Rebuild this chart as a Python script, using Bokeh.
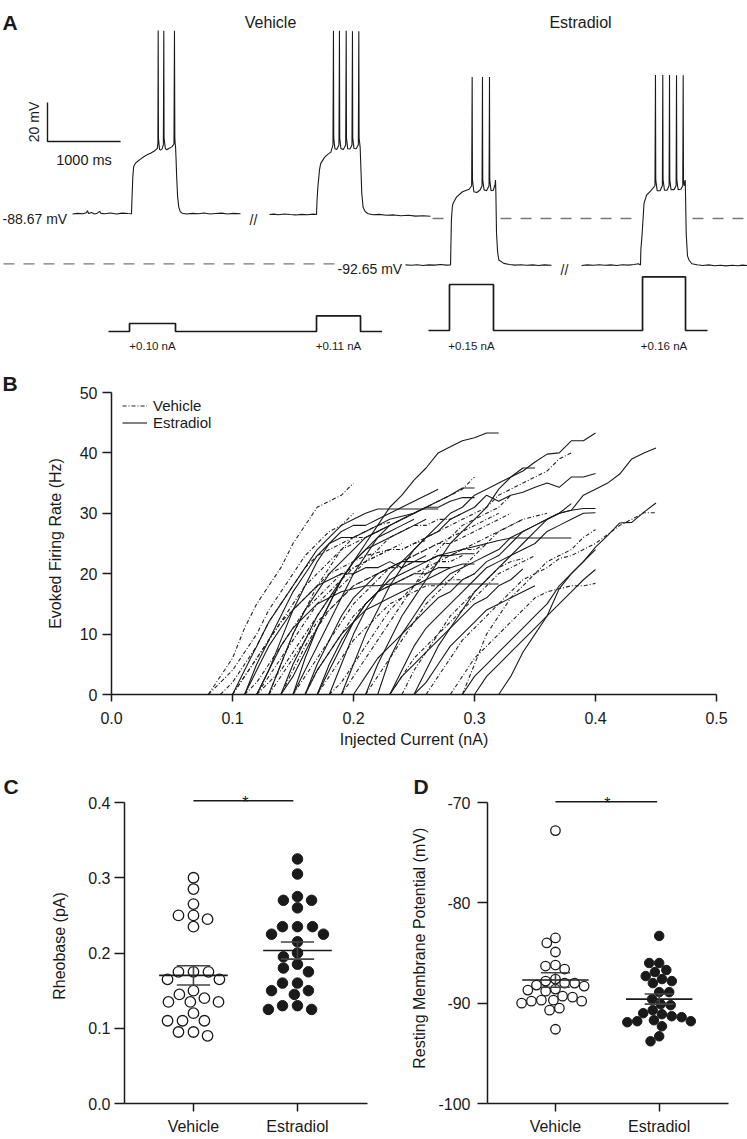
import math
import numpy as np
from bokeh.plotting import figure
from bokeh.layouts import column, row
from bokeh.models import Range1d, FixedTicker, Label, Legend, LegendItem, NumeralTickFormatter, Title
from bokeh.embed import file_html
from bokeh.resources import INLINE

FONT = "Liberation Sans"
INK = "#1a1a1a"

# ======================= DATA =======================
# ---- Panel A: example voltage traces (local time in ms, membrane potential in mV)
vt1_t = [0, 70, 140, 190, 205, 220, 260, 300, 340, 370, 390, 440, 520, 600, 680, 760, 807,
         815, 825, 836, 860, 884, 930, 975, 1020, 1067, 1120, 1160, 1168,
         1172, 1176, 1190, 1204, 1225, 1243,
         1249, 1253, 1270, 1290, 1317, 1360, 1388,
         1395, 1400, 1405, 1410,
         1418, 1425, 1438, 1454, 1475, 1500, 1560, 1640, 1720, 1800, 1880, 1960, 2040, 2120, 2200, 2298]
vt1_mv = [-88.9, -88.6, -88.8, -88.3, -87.3, -88.7, -88.1, -88.9, -88.5, -87.6, -88.6, -88.8, -88.4, -88.9, -88.5, -88.7, -88.8,
          -80.0, -70.0, -64.7, -63.0, -62.1, -60.8, -59.6, -58.6, -57.8, -56.6, -55.3, -53.0,
          5.2, -50.0, -55.8, -56.2, -55.5, -53.5,
          5.0, -50.0, -55.4, -56.0, -55.3, -54.5, -53.0,
          5.1, -50.0, -53.0, -54.6,
          -62.0, -70.0, -80.0, -85.4, -87.8, -88.5, -88.9, -88.6, -88.8, -88.4, -88.9, -88.7, -88.5, -88.9, -88.6, -88.8]

vt2_t = [0, 60, 120, 200, 280, 360, 440, 520, 600, 643,
         650, 662, 685, 700, 750, 800, 840, 868,
         875, 879, 895, 920, 950,
         957, 961, 978, 1010, 1042,
         1049, 1053, 1070, 1100, 1128,
         1135, 1139, 1155, 1185, 1215,
         1222, 1226, 1240,
         1250, 1262, 1280, 1310, 1350, 1420, 1500, 1600, 1700, 1800, 1900, 2000, 2100, 2202]
vt2_mv = [-89.2, -89.0, -89.3, -88.9, -89.2, -89.4, -89.1, -89.3, -89.0, -89.2,
          -82.0, -75.0, -66.0, -63.1, -60.0, -58.2, -57.2, -53.5,
          5.0, -50.0, -55.5, -55.8, -53.5,
          5.0, -50.0, -55.5, -55.8, -53.5,
          5.0, -50.0, -55.5, -55.6, -53.5,
          4.8, -50.0, -55.3, -55.5, -53.5,
          4.8, -50.0, -54.6,
          -65.0, -78.0, -85.5, -87.8, -88.8, -89.3, -89.1, -89.6, -89.4, -89.8, -89.6, -90.0, -89.8, -90.1]

et1_t = [0, 80, 160, 240, 320, 400, 480, 560, 616,
         620, 628, 640, 650, 700, 780, 870, 905,
         912, 916, 935, 975, 1020, 1047,
         1053, 1057, 1075, 1110, 1143,
         1149, 1153, 1170, 1200, 1225, 1231,
         1236, 1245, 1260, 1277, 1345, 1420, 1500, 1580, 1660, 1740, 1820, 1900, 1997]
et1_mv = [-92.6, -92.8, -92.5, -92.9, -92.6, -92.7, -92.4, -92.7, -92.6,
          -85.0, -69.6, -63.0, -61.1, -57.7, -55.1, -53.8, -52.0,
          3.8, -49.0, -55.1, -55.5, -54.2, -52.0,
          3.8, -49.0, -54.2, -54.5, -52.0,
          3.8, -49.0, -54.5, -54.3, -51.5, -49.1,
          -55.0, -76.4, -86.0, -90.1, -91.8, -92.4, -92.7, -92.5, -92.8, -92.6, -92.9, -92.6, -92.8]

et2_t = [0, 80, 160, 240, 320, 400, 480, 560, 640, 720, 780, 807,
         812, 830, 855, 890, 950, 1005,
         1012, 1016, 1035, 1075, 1106,
         1112, 1116, 1135, 1170, 1198,
         1204, 1208, 1225, 1265, 1294,
         1300, 1304, 1322, 1360, 1385,
         1391, 1395, 1405, 1419,
         1425, 1432, 1450, 1470, 1510, 1580, 1660, 1740, 1820, 1900, 1980, 2060, 2140, 2200, 2271]
et2_mv = [-92.9, -92.6, -92.8, -92.5, -92.8, -92.6, -92.9, -92.5, -92.7, -92.4, -92.0, -92.7,
          -85.0, -76.4, -61.1, -56.8, -54.5, -52.0,
          4.8, -49.0, -54.5, -54.6, -52.0,
          4.8, -49.0, -54.3, -54.3, -52.0,
          4.8, -49.0, -54.0, -54.0, -52.0,
          4.6, -49.0, -54.0, -53.8, -52.0,
          4.6, -49.0, -52.0, -49.1,
          -60.0, -76.4, -88.0, -90.1, -92.0, -92.5, -92.9, -92.6, -93.0, -92.8, -93.1, -92.8, -93.0, -92.7, -92.9]

vehicle_rest_mv = -88.67
estradiol_rest_mv = -92.65

# injected current protocols (absolute time in ms, current in nA)
veh_I_t = [1478, 1765, 1765, 2394, 2394, 4323, 4323, 4925, 4925, 5220]
veh_I_nA = [0, 0, 0.10, 0.10, 0, 0, 0.11, 0.11, 0, 0]
est_I_t = [5855, 6142, 6142, 6744, 6744, 8783, 8783, 9371, 9371, 9672]
est_I_nA = [0, 0, 0.15, 0.15, 0, 0, 0.16, 0.16, 0, 0]

scale_mv = 20
scale_ms = 1000

# ---- Panel B: F-I curves (start current in nA, then firing rate every 0.01 nA)
fi_step = 0.01
veh_fi_start = [0.08, 0.08, 0.09, 0.10, 0.11, 0.12, 0.12, 0.13, 0.14, 0.15, 0.16,
                0.17, 0.18, 0.26, 0.29, 0.28, 0.21, 0.23, 0.24, 0.19, 0.10, 0.13]
veh_fi_rate = [
    [0, 3, 6, 11, 15, 18, 21, 25, 28, 31, 32, 33, 35],
    [0, 2, 4, 7, 10, 14, 17, 20, 23, 25, 27, 28, 30],
    [0, 2, 5, 8, 12, 15, 18, 21, 23, 24, 25, 26, 26, 27, 28],
    [0, 3, 6, 9, 12, 15, 18, 20, 22, 24, 25, 26, 27, 28, 29, 30, 31, 32, 33, 34, 36],
    [0, 2, 5, 8, 11, 14, 16, 18, 20, 21, 22, 23, 24, 24, 25, 26, 27, 28, 29, 30, 31, 33, 34, 35, 36, 37, 39, 40],
    [0, 3, 6, 9, 12, 15, 17, 19, 21, 22, 23, 24, 24, 25, 25.5],
    [0, 2, 4, 7, 10, 13, 16, 18, 20, 22, 24, 26, 27, 28, 28, 29, 29, 30],
    [0, 3, 6, 9, 12, 14, 16, 18, 19, 20, 21, 21, 22, 22, 23, 23, 24, 24, 25],
    [0, 4, 8, 11, 14, 16, 18, 19, 20, 21, 22, 23, 24, 25, 25, 26, 27, 28, 29, 30],
    [0, 3, 6, 9, 12, 15, 17, 19, 21, 22, 23, 24, 25, 26, 27, 28, 29, 30],
    [0, 4, 7, 10, 13, 15, 17, 18, 19, 20, 21, 22, 22, 23],
    [0, 3, 6, 9, 11, 13, 15, 16, 17, 18, 18, 19, 19, 20],
    [0, 2, 5, 8, 11, 14, 16, 18, 20, 22, 23, 24, 25, 26, 27, 28, 29],
    [0, 3, 6, 9, 11, 13, 15, 17, 19, 20, 21, 22.5, 23, 24, 25, 26.5, 28, 29, 30.1, 30.1],
    [0, 5, 10, 13, 16, 18, 20, 22, 23, 24, 26, 27.3],
    [0, 3, 6, 8, 10, 12, 14, 16, 17, 17.5, 18, 18, 18.4],
    [0, 3, 6, 9, 12, 15, 17, 19, 21, 23, 25, 27, 28, 29, 29.5, 30],
    [0, 3, 6, 8, 10, 12, 14, 16, 18, 20, 21, 22, 23],
    [0, 4, 7, 10, 13, 15, 17, 19, 21, 22, 22.5],
    [0, 3, 6, 9, 12, 15, 18, 21, 24, 26, 28, 29, 30, 31, 33],
    [0, 3, 6, 9, 12, 14, 16, 18, 20, 21, 22, 23, 23.5, 24, 25],
    [0, 5, 10, 14, 18, 21, 24, 26, 27, 28, 28.5],
]
est_fi_start = [0.14, 0.21, 0.18, 0.25, 0.32, 0.20, 0.23, 0.22, 0.17, 0.19, 0.23, 0.12, 0.15,
                0.13, 0.16, 0.11, 0.30, 0.29, 0.10, 0.11, 0.12, 0.14, 0.15, 0.16, 0.17, 0.25]
est_fi_rate = [
    [0, 5, 9, 13, 16, 19, 22, 25, 28, 31, 33, 35.5, 37.5, 40, 41, 42, 42.5, 43.3, 43.3],
    [0, 5, 9, 13, 16, 19, 22, 25, 27, 29, 31, 34, 36, 37, 38.5, 39.8, 40, 42, 42, 43.3],
    [0, 5, 10, 14, 17, 20, 22, 24, 26, 27, 29, 30, 31, 33, 32, 33, 33.5, 34.3, 35, 34.3, 36, 36, 36.6],
    [0, 4, 8, 11, 14, 17, 19, 21, 23, 25, 27, 29, 30, 30.5, 33, 34, 35, 36.5, 39, 40, 40.8],
    [0, 3, 7, 10, 13, 17.5, 20, 22, 24.4, 26.3, 28.4, 28.5, 30.2, 31.7],
    [0, 3, 6, 8, 10, 12, 14, 16, 17, 19, 20, 22, 23, 25, 27, 28, 29, 30, 30.5, 30.8, 30.8],
    [0, 4, 8, 11, 13, 15, 17, 19, 21, 22, 23, 24, 25, 27, 28, 29, 30, 30.1],
    [0, 6, 10, 13, 16, 18, 20, 21, 22, 23, 24, 26, 27, 28, 29, 30, 31.6],
    [0, 5, 9, 12, 15, 17, 19, 20, 21, 22, 23, 23.5, 24, 24.5, 25, 25.5, 25.9, 25.9, 25.9, 25.9, 25.9, 25.9],
    [0, 5, 10, 14, 18, 21, 24, 26, 28, 30, 31, 33, 34, 35, 36, 37.5, 37.5],
    [0, 3, 5, 7, 9, 11, 13, 15, 16, 18, 19, 20.8],
    [0, 4, 8, 11, 13, 15, 16, 17, 17.5, 18, 18, 18.3, 18.3, 18.3, 18.3, 18.3, 18.3, 18.3, 18.3, 18.3, 18.3],
    [0, 6, 11, 15, 19, 22, 24, 26, 28, 29, 30, 31, 32, 33, 34.2, 34.2],
    [0, 5, 10, 14, 17, 20, 22, 24, 26, 27, 28, 29, 30, 31, 31, 32, 32.6, 32.6],
    [0, 4, 7, 10, 12, 14, 15, 16, 17, 18, 19, 20, 21, 21.6, 21.6],
    [0, 4, 8, 11, 14, 16, 18, 19, 20, 20, 21, 21, 22, 21, 22, 22, 23, 23, 23.3, 23.3],
    [0, 3, 5, 7, 9, 11, 13, 15, 17, 19, 20.7],
    [0, 3, 5, 7, 9, 11, 13, 15, 18, 20, 22, 24],
    [0, 4, 8, 12, 15, 18, 21, 24, 26, 28, 29, 30, 30.7, 30.7, 30.7, 30.7, 30.7, 30.7],
    [0, 5, 9, 13, 17, 20, 23, 25, 26, 26, 27, 28, 29, 29.5, 30, 31],
    [0, 4, 9, 14, 18, 22, 25, 27, 28, 28, 29, 30, 31, 32, 33, 34],
    [0, 3, 7, 11, 15, 19, 22, 24, 25, 26, 27, 28, 29],
    [0, 4, 8, 12, 16, 20, 23, 26, 27, 28, 29],
    [0, 5, 9, 13, 16, 18, 20, 21, 22, 22, 23],
    [0, 4, 8, 12, 15, 17, 18, 19, 20, 20, 21, 21],
    [0, 2, 5, 8, 10, 12, 14, 15, 16, 17, 18],
]

# ---- Panel C: rheobase
groups = ["Vehicle", "Estradiol"]
rheobase_vehicle = [0.300, 0.285, 0.265, 0.250, 0.250, 0.245, 0.235, 0.175, 0.175, 0.175, 0.165, 0.165,
                    0.150, 0.145, 0.140, 0.135, 0.135, 0.135, 0.120, 0.110, 0.110, 0.110, 0.095, 0.095, 0.090]
rheobase_estradiol = [0.325, 0.305, 0.275, 0.270, 0.270, 0.260, 0.235, 0.235, 0.235, 0.225, 0.225, 0.215, 0.200,
                      0.195, 0.185, 0.180, 0.175, 0.160, 0.160, 0.150, 0.150, 0.145, 0.130, 0.130, 0.125, 0.125]

# ---- Panel D: resting membrane potential
rmp_vehicle = [-72.8, -83.5, -84.0, -84.9, -86.2, -86.3, -86.6, -87.6, -87.8, -88.0, -88.0, -88.2, -88.3,
               -88.6, -88.7, -88.8, -89.3, -89.4, -89.7, -89.7, -89.8, -89.8, -90.0, -90.5, -90.7, -92.6]
rmp_estradiol = [-83.3, -86.0, -86.0, -86.7, -86.9, -87.3, -87.6, -87.8, -88.0, -88.9, -88.9, -89.6, -90.1,
                 -90.2, -90.7, -91.0, -91.1, -91.3, -91.4, -91.7, -91.8, -91.8, -91.9, -92.3, -93.3, -93.8]

# ======================= HELPERS =======================
def style_axes(p, tick_out_x, standoff_x, label_standoff_x, tick_out_y, standoff_y, label_standoff_y):
    for a in p.axis:
        a.axis_line_width = 1.5
        a.axis_line_color = INK
        a.major_tick_line_width = 1.5
        a.major_tick_line_color = INK
        a.major_tick_in = 0
        a.minor_tick_in = 0
        a.minor_tick_out = 0
        a.major_label_text_font = FONT
        a.major_label_text_font_size = "16px"
        a.major_label_text_color = INK
        a.axis_label_text_font = FONT
        a.axis_label_text_font_size = "16px"
        a.axis_label_text_font_style = "normal"
        a.axis_label_text_color = INK
    p.xaxis.major_tick_out = tick_out_x
    p.xaxis.major_label_standoff = standoff_x
    p.xaxis.axis_label_standoff = label_standoff_x
    p.yaxis.major_tick_out = tick_out_y
    p.yaxis.major_label_standoff = standoff_y
    p.yaxis.axis_label_standoff = label_standoff_y
    p.outline_line_color = None
    p.grid.grid_line_color = None
    p.frame_align = False


def panel_letter(p, text, offset, standoff):
    p.add_layout(Title(text=text, align="left", offset=offset, standoff=standoff,
                       text_font=FONT, text_font_size="21px", text_font_style="bold",
                       text_color=INK), "above")


def swarm(vals, ypx, dx_min, dy_min):
    """Greedy beeswarm: points closer than dx_min horizontally and dy_min vertically are pushed aside."""
    k = dx_min / dy_min
    idx = sorted(range(len(vals)), key=lambda i: -vals[i])
    placed = []
    out = [0.0] * len(vals)
    d = dx_min
    for i in idx:
        y = vals[i] * ypx * k
        cands = [0.0]
        for xj, yj in placed:
            dy = abs(y - yj)
            if dy < d:
                dx = math.sqrt(d * d - dy * dy)
                cands += [xj - dx, xj + dx]
        cands.sort(key=lambda c: (abs(c), c))
        chosen = cands[-1]
        for c in cands:
            if all((c - xj) ** 2 + (y - yj) ** 2 >= d * d - 1e-6 for xj, yj in placed):
                chosen = c
                break
        placed.append((chosen, y))
        out[i] = chosen
    return out


def lbl(p, x, y, text, size, align="left", bold=False, angle=0.0, color=INK, baseline="alphabetic"):
    p.add_layout(Label(x=x, y=y, text=text, text_font=FONT, text_font_size=size,
                       text_align=align, text_baseline=baseline, angle=angle,
                       text_font_style="bold" if bold else "normal", text_color=color))

# ======================= PANEL A =======================
A_W, A_H = 747, 350
PX_PER_MS = 0.0731
PX_PER_MV = 1.95
A_TOP = vehicle_rest_mv + 213 / PX_PER_MV
pA = figure(width=A_W, height=A_H, x_range=Range1d(0, A_W / PX_PER_MS),
            y_range=Range1d(A_TOP - A_H / PX_PER_MV, A_TOP),
            output_backend="svg", toolbar_location=None, title=None,
            x_axis_location=None, y_axis_location=None, min_border=0)
pA.outline_line_color = None
pA.grid.grid_line_color = None
pA.frame_align = False

def ax(px):  # page x -> ms
    return px / PX_PER_MS

def ay(py):  # page y -> display mV
    return A_TOP - py / PX_PER_MV

EST_OFF = ay(264.5) - estradiol_rest_mv
traces = [(vt1_t, vt1_mv, ax(72), 0.0), (vt2_t, vt2_mv, ax(269), 0.0),
          (et1_t, et1_mv, ax(405), EST_OFF), (et2_t, et2_mv, ax(581), EST_OFF)]
for t, mv, x0, off in traces:
    pA.line([x0 + v for v in t], [m + off for m in mv], line_color=INK, line_width=1.1)

# reference dashed lines
pA.line([ax(3), ax(336)], [estradiol_rest_mv + EST_OFF + 0.6] * 2, line_color="#777777", line_width=1.3, line_dash="11 9")
for a_, b_ in [(432, 447), (500, 636), (692, 747)]:
    pA.line([ax(a_), ax(b_)], [ay(218)] * 2, line_color="#777777", line_width=1.3, line_dash="11 9")

# current protocols
I_GAIN = 760.0   # px per nA above holding
I_HOLD = 0.0895
def i_disp(vals, base_py):
    return [ay(base_py) + (max(v - I_HOLD, 0) * I_GAIN if v > 0 else 0) / PX_PER_MV for v in vals]
pA.line(veh_I_t, i_disp(veh_I_nA, 331), line_color=INK, line_width=1.7)
pA.line(est_I_t, i_disp(est_I_nA, 330), line_color=INK, line_width=1.7)
for tt, ii in [(veh_I_t, veh_I_nA), (est_I_t, est_I_nA)]:
    for k in range(len(ii) - 1):
        if ii[k] > 0 and ii[k + 1] > 0:
            lbl(pA, (tt[k] + tt[k + 1]) / 2, ay(345), f"+{ii[k]:.2f} nA", "11.5px", align="center")

# scale bar
sb_x, sb_y = ax(47), ay(141)
pA.line([sb_x, sb_x, sb_x + scale_ms], [sb_y + scale_mv, sb_y, sb_y], line_color=INK, line_width=1.4)
lbl(pA, ax(41), sb_y + scale_mv / 2, f"{scale_mv} mV", "14px", align="center", angle=math.pi / 2,
    baseline="bottom")
lbl(pA, sb_x + scale_ms / 2, ay(159.3), f"{scale_ms} ms", "14.5px", align="center")

lbl(pA, ax(2), ay(21.7), "A", "21px", bold=True)
lbl(pA, ax(270), ay(21.5), "Vehicle", "16px", align="center")
lbl(pA, ax(580), ay(21.5), "Estradiol", "16px", align="center")
lbl(pA, ax(66.7), ay(218), f"{vehicle_rest_mv:.2f} mV", "14px", align="right")
lbl(pA, ax(401.7), ay(268.5), f"{estradiol_rest_mv:.2f} mV", "14px", align="right")
lbl(pA, ax(253), ay(219), "//", "14px", align="center")
lbl(pA, ax(564), ay(269), "//", "14px", align="center")

# ======================= PANEL B =======================
pB = figure(width=747, height=402, x_range=Range1d(0, 0.5), y_range=Range1d(0, 50),
            output_backend="svg", toolbar_location=None, title=None,
            min_border_left=111, min_border_right=31, min_border_top=42, min_border_bottom=58)
style_axes(pB, 7, 10, 4, 9, 5, 13)
pB.xaxis.ticker = FixedTicker(ticks=[0, 0.1, 0.2, 0.3, 0.4, 0.5])
pB.xaxis.formatter = NumeralTickFormatter(format="0.0")
pB.yaxis.ticker = FixedTicker(ticks=[0, 10, 20, 30, 40, 50])
pB.xaxis.axis_label = "Injected Current (nA)"
pB.yaxis.axis_label = "Evoked Firing Rate (Hz)"

def fi_xy(starts, rates):
    xs = [[s + fi_step * k for k in range(len(r))] for s, r in zip(starts, rates)]
    return xs, [list(r) for r in rates]

vx, vy = fi_xy(veh_fi_start, veh_fi_rate)
ex, ey = fi_xy(est_fi_start, est_fi_rate)
r_veh = pB.multi_line(xs=vx, ys=vy, line_color="#222222", line_width=1.1, line_dash="4 2 1 2")
r_est = pB.multi_line(xs=ex, ys=ey, line_color=INK, line_width=1.1)
leg = Legend(items=[LegendItem(label="Vehicle", renderers=[r_veh]),
                    LegendItem(label="Estradiol", renderers=[r_est])],
             location=(11, 263), border_line_color=None, background_fill_alpha=0,
             label_text_font=FONT, label_text_font_size="15px", label_text_color=INK,
             glyph_width=25, glyph_height=17, label_height=17, spacing=0, padding=0, margin=0,
             label_standoff=6)
pB.add_layout(leg)
panel_letter(pB, "B", -109, -4)

# ======================= PANELS C & D =======================
EXTRA_TOP = 14   # px of frame above the top tick, room for the significance marks
C_XR = (0.337, 2.673)
C_YPX = 301 / 0.4
C_TOP = 0.4 + EXTRA_TOP / C_YPX
pC = figure(width=373, height=387, x_range=Range1d(*C_XR), y_range=Range1d(0, C_TOP),
            output_backend="svg", toolbar_location=None, title=None,
            min_border_left=124, min_border_right=6, min_border_top=36, min_border_bottom=36)
style_axes(pC, 8, 6, 0, 10, 4, 17)
pC.xaxis.ticker = FixedTicker(ticks=[1, 2])
pC.xaxis.major_label_overrides = {1: groups[0], 2: groups[1]}
pC.yaxis.ticker = FixedTicker(ticks=[0, 0.1, 0.2, 0.3, 0.4])
pC.yaxis.formatter = NumeralTickFormatter(format="0.0")
pC.yaxis.bounds = (0, 0.4)
pC.yaxis.axis_label = "Rheobase (pA)"
C_XPX = 243 / (C_XR[1] - C_XR[0])

D_XR = (0.345, 2.668)
D_YPX = 301 / 30.0
D_TOP = -70 + EXTRA_TOP / D_YPX
D_XPX = 241 / (D_XR[1] - D_XR[0])

def dot_panel(p, vals_list, ypx, xpx, dx_min, dy_min, size, mean_half, cap_half, bar_y, bar_x1):
    for gi, vals in enumerate(vals_list):
        cx = gi + 1
        offs = swarm(vals, ypx, dx_min, dy_min)
        xs = [cx + o / xpx for o in offs]
        if gi == 0:
            p.scatter(xs, vals, marker="circle", size=size, line_color=INK, fill_color="white", line_width=1.3)
        else:
            p.scatter(xs, vals, marker="circle", size=size, line_color=INK, fill_color=INK, line_width=1.0)
        arr = np.array(vals, dtype=float)
        m = arr.mean()
        se = arr.std(ddof=1) / math.sqrt(len(arr))
        col = "#444444"
        p.segment(x0=[cx - mean_half, cx, cx - cap_half, cx - cap_half],
                  y0=[m, m - se, m + se, m - se],
                  x1=[cx + mean_half, cx, cx + cap_half, cx + cap_half],
                  y1=[m, m + se, m + se, m - se], line_color=[INK, col, col, col], line_width=1.6)
    p.line([1, bar_x1], [bar_y, bar_y], line_color=INK, line_width=1.4)

dot_panel(pC, [rheobase_vehicle, rheobase_estradiol], C_YPX, C_XPX, 15.0, 11.0, 10.5, 0.33, 0.16,
          0.4 + 1.7 / C_YPX, 1.96)
lbl(pC, 1.5, 0.4 - 0.3 / C_YPX, "*", "16px", align="center")
panel_letter(pC, "C", -121, -4 - EXTRA_TOP)

pD = figure(width=374, height=387, x_range=Range1d(*D_XR), y_range=Range1d(-100, D_TOP),
            output_backend="svg", toolbar_location=None, title=None,
            min_border_left=114, min_border_right=19, min_border_top=36, min_border_bottom=36)
style_axes(pD, 8, 6, 0, 10, 7, 7)
pD.xaxis.ticker = FixedTicker(ticks=[1, 2])
pD.xaxis.major_label_overrides = {1: groups[0], 2: groups[1]}
pD.yaxis.ticker = FixedTicker(ticks=[-100, -90, -80, -70])
pD.yaxis.major_label_overrides = {v: str(v) for v in [-100, -90, -80, -70]}
pD.yaxis.bounds = (-100, -70)
pD.yaxis.axis_label = "Resting  Membrane Potential (mV)"

dot_panel(pD, [rmp_vehicle, rmp_estradiol], D_YPX, D_XPX, 10.0, 10.0, 9.5, 0.32, 0.14,
          -70 + 0.7 / D_YPX, 1.98)
lbl(pD, 1.5, -70 - 0.8 / D_YPX, "*", "16px", align="center")
panel_letter(pD, "D", -74, -4 - EXTRA_TOP)

layout = column(pA, pB, row(pC, pD, spacing=0), spacing=0)
open("out.html", "w").write(file_html(layout, INLINE))
